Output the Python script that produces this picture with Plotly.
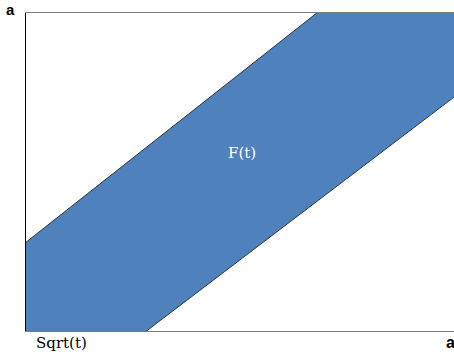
import plotly.graph_objects as go

# Band boundaries (fractions of the side length a)
upper_x = [0.0, 0.683]
upper_y = [0.278, 1.0]
lower_x = [0.280, 1.0]
lower_y = [0.0, 0.734]

band_x = [0.0, lower_x[0], lower_x[1], 1.0, upper_x[1], upper_x[0], 0.0]
band_y = [0.0, lower_y[0], lower_y[1], 1.0, upper_y[1], upper_y[0], 0.0]

fig = go.Figure()
fig.add_trace(go.Scatter(x=band_x, y=band_y, mode="lines", fill="toself",
                         fillcolor="#4F81BD", line=dict(width=0),
                         hoverinfo="skip", showlegend=False))
for xs, ys in [(upper_x, upper_y), (lower_x, lower_y)]:
    fig.add_trace(go.Scatter(x=xs, y=ys, mode="lines",
                             line=dict(color="#2b3440", width=1),
                             hoverinfo="skip", showlegend=False))

# Frame: black left side, grey top and bottom
fig.add_shape(type="line", x0=0, x1=0, y0=0, y1=1, xref="x", yref="y",
              line=dict(color="black", width=2))
fig.add_shape(type="line", x0=0, x1=1, y0=1, y1=1, xref="x", yref="y",
              line=dict(color="#7f7f7f", width=2))
fig.add_shape(type="line", x0=0, x1=1, y0=0, y1=0, xref="x", yref="y",
              line=dict(color="#7f7f7f", width=2))

top = 1 + 12 / 320
fig.add_annotation(x=0.0, y=top, xref="paper", yref="paper", text="<b>a</b>",
                   showarrow=False, xanchor="right", yanchor="top",
                   xshift=-8, yshift=1,
                   font=dict(family="Liberation Sans", size=15, color="black"))
fig.add_annotation(x=1.0, y=0.0, xref="paper", yref="paper", text="<b>a</b>",
                   showarrow=False, xanchor="right", yanchor="top",
                   xshift=3, yshift=0,
                   font=dict(family="Liberation Sans", size=16, color="black"))
fig.add_annotation(x=0.0, y=0.0, xref="paper", yref="paper", text="Sqrt(t)",
                   showarrow=False, xanchor="left", yanchor="top",
                   xshift=9, yshift=0,
                   font=dict(family="DejaVu Serif", size=15, color="black"))
fig.add_annotation(x=0.505, y=0.56, xref="x", yref="y", text="F(t)",
                   showarrow=False, xanchor="center", yanchor="middle",
                   font=dict(family="DejaVu Serif", size=15, color="white"))

fig.update_xaxes(range=[0, 1], visible=False, fixedrange=True)
fig.update_yaxes(range=[0, 1], visible=False, fixedrange=True)
fig.update_layout(width=454, height=354,
                  margin=dict(l=25, r=0, t=12, b=22),
                  plot_bgcolor="white", paper_bgcolor="white")

fig.write_html("out.html")
